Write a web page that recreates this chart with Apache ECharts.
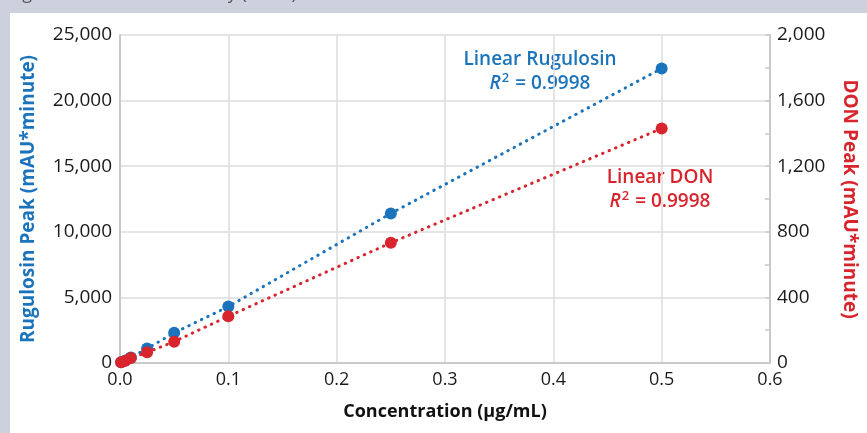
<!DOCTYPE html>
<html>
<head>
<meta charset="utf-8">
<script src="https://cdn.jsdelivr.net/npm/echarts@6/dist/echarts.min.js"></script>
<style>
  html, body { margin: 0; padding: 0; background: #cdd1de; }
  #chart { width: 867px; height: 433px; }
</style>
</head>
<body>
<div id="chart"></div>
<script>
// calibration data
const concentration = [0.001, 0.005, 0.01, 0.025, 0.05, 0.1, 0.25, 0.5];
const rugulosinPeak = [50, 200, 420, 1100, 2300, 4300, 11400, 22450];
const donPeak = [4, 14, 30, 65, 130, 285, 733, 1430];

const xTicks = [0, 0.1, 0.2, 0.3, 0.4, 0.5, 0.6];
const leftTicks = [0, 5000, 10000, 15000, 20000, 25000];
const rightTicks = [0, 400, 800, 1200, 1600, 2000];

const BLUE = "#1b74bb";
const RED = "#d8242c";
const FONT = "'Open Sans', sans-serif";

const chart = echarts.init(document.getElementById("chart"));

const fmt = (v) => v.toLocaleString("en-US");
const pairs = (ys) => concentration.map((x, i) => [x, ys[i]]);

const dotted = (color) => ({
  color,
  width: 3,
  type: [0.5, 6.5],
  cap: "round",
});

// two-line fit label with italic R and a raised 2
function fitLabel(title, color, x, y) {
  const base = { fontSize: 19, fontWeight: 600, fill: color, fontFamily: FONT, lineHeight: 24 };
  return {
    type: "text",
    x,
    y,
    silent: true,
    style: {
      ...base,
      text: `${title}\n{i|R}{s|2}{n| = 0.9998}`,
      align: "center",
      rich: {
        i: { ...base, fontStyle: "italic" },
        s: { ...base, fontSize: 13, verticalAlign: "top", padding: [0, 1, 0, 1], lineHeight: 17 },
        n: base,
      },
    },
  };
}

chart.setOption({
  backgroundColor: "#ffffff",
  animation: false,
  textStyle: { fontFamily: FONT },
  grid: { left: 120, right: 89, top: 35, bottom: 70 },
  xAxis: {
    type: "value",
    min: xTicks[0],
    max: xTicks[xTicks.length - 1],
    interval: 0.1,
    name: "Concentration (µg/mL)",
    nameLocation: "middle",
    nameGap: 40,
    nameTextStyle: { fontSize: 18, fontWeight: "bold", color: "#111", fontFamily: FONT },
    axisLine: { lineStyle: { color: "#c9c9c9", width: 2 } },
    axisTick: { show: false },
    axisLabel: {
      fontSize: 18,
      color: "#1a1a1a",
      margin: 8,
      formatter: (v) => v.toFixed(1),
    },
    splitLine: { show: true, lineStyle: { color: "#dcdcdc", width: 1.5 } },
  },
  yAxis: [
    {
      type: "value",
      min: leftTicks[0],
      max: leftTicks[leftTicks.length - 1],
      interval: 5000,
      position: "left",
      name: "Rugulosin Peak (mAU*minute)",
      nameLocation: "middle",
      nameRotate: 90,
      nameGap: 82,
      nameTextStyle: { fontSize: 19, fontWeight: "bold", color: BLUE, fontFamily: FONT },
      axisLine: { show: true, lineStyle: { color: "#c9c9c9", width: 2 } },
      axisTick: { show: false },
      axisLabel: { fontSize: 19, color: "#1a1a1a", margin: 8, formatter: fmt },
      splitLine: { show: true, lineStyle: { color: "#dcdcdc", width: 1.5 } },
    },
    {
      type: "value",
      min: rightTicks[0],
      max: rightTicks[rightTicks.length - 1],
      interval: 400,
      position: "right",
      name: "DON Peak (mAU*minute)",
      nameLocation: "middle",
      nameRotate: -90,
      nameGap: 70,
      nameTextStyle: { fontSize: 19, fontWeight: "bold", color: RED, fontFamily: FONT },
      axisLine: { show: true, lineStyle: { color: "#c9c9c9", width: 2 } },
      axisTick: { show: true, inside: true, length: 5, lineStyle: { color: "#c9c9c9", width: 1.5 } },
      minorTick: { show: true, splitNumber: 2, length: 5, lineStyle: { color: "#c9c9c9", width: 1.5 } },
      axisLabel: { fontSize: 19, color: "#1a1a1a", margin: 7, formatter: fmt },
      splitLine: { show: false },
    },
  ],
  series: [
    {
      name: "Rugulosin",
      type: "line",
      yAxisIndex: 0,
      data: pairs(rugulosinPeak),
      symbol: "circle",
      symbolSize: 12,
      itemStyle: { color: BLUE },
      lineStyle: dotted(BLUE),
      z: 2,
    },
    {
      name: "DON",
      type: "line",
      yAxisIndex: 1,
      data: pairs(donPeak),
      symbol: "circle",
      symbolSize: 12,
      itemStyle: { color: RED },
      lineStyle: dotted(RED),
      z: 3,
    },
  ],
  graphic: [
    // grey frame round the white panel, as in the source figure
    { type: "rect", left: 0, top: 0, shape: { width: 867, height: 13 }, style: { fill: "#cdd1de" }, silent: true },
    { type: "rect", left: 0, top: 0, shape: { width: 10, height: 433 }, style: { fill: "#cdd1de" }, silent: true },
    {
      type: "text",
      left: 0,
      top: -15,
      style: { text: "Rugulosin and DON linearity (HPLC)", fontSize: 18, fill: "#555", fontFamily: FONT },
      silent: true,
    },
    fitLabel("Linear Rugulosin", BLUE, 540, 48),
    fitLabel("Linear DON", RED, 660, 166),
  ],
});

window.addEventListener("resize", () => chart.resize());
</script>
</body>
</html>
